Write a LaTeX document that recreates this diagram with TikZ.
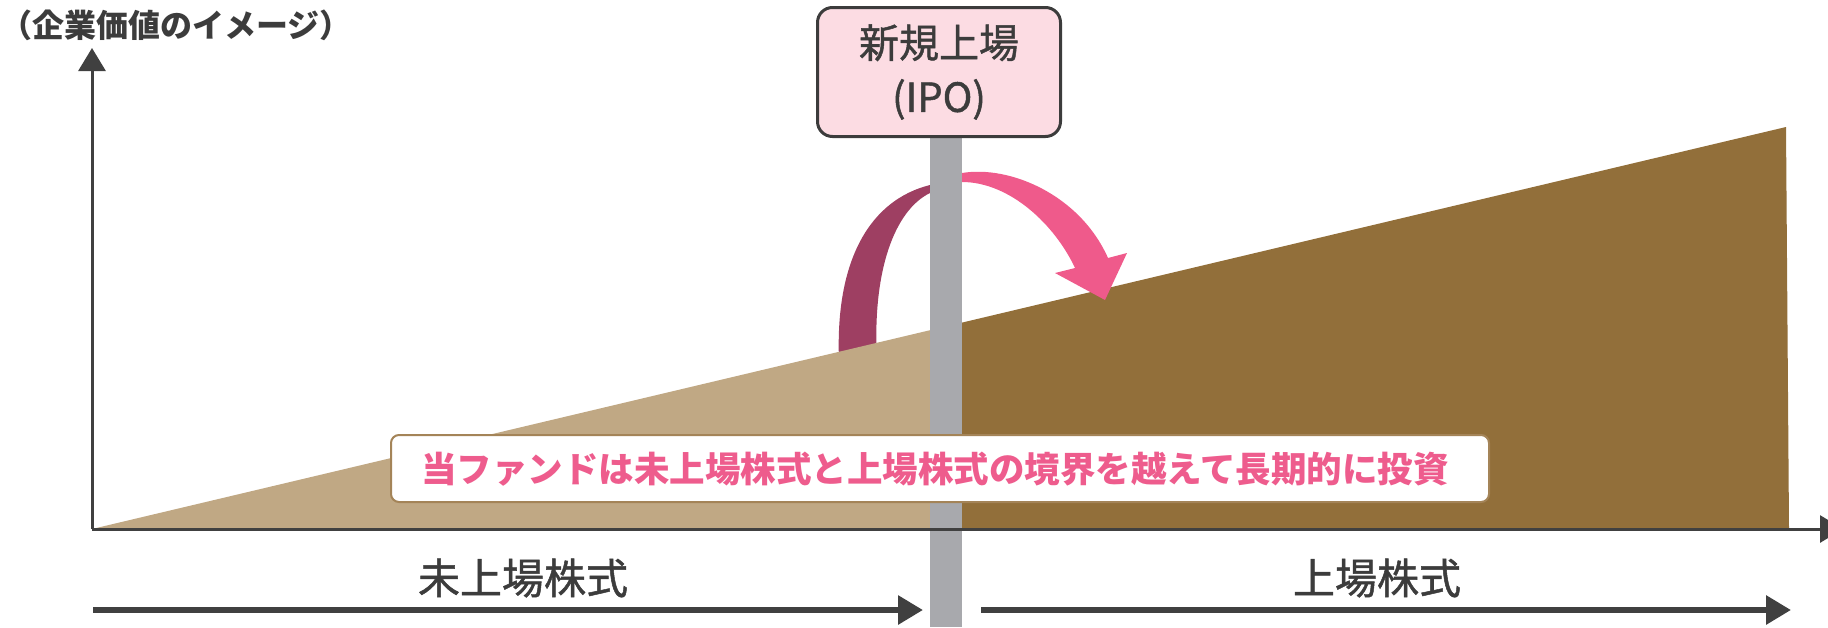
\documentclass[tikz,border=0pt]{standalone}
\usepackage{fontspec}
\setmainfont{Noto Sans CJK JP}
\newfontfamily\jpmedium{Noto Sans CJK JP}[FakeBold=1.2]
\usetikzlibrary{arrows.meta}
\definecolor{tanfill}{RGB}{192,168,132}
\definecolor{brownfill}{RGB}{146,111,58}
\definecolor{polegray}{RGB}{168,169,173}
\definecolor{darkarc}{RGB}{158,63,98}
\definecolor{pinkarrow}{RGB}{239,90,139}
\definecolor{pinktext}{RGB}{238,92,141}
\definecolor{boxpink}{RGB}{252,220,227}
\definecolor{axisgray}{RGB}{64,64,64}
\definecolor{textgray}{RGB}{60,60,60}
\definecolor{boxborder}{RGB}{164,132,88}
\tikzset{
  axisline/.style={draw=axisgray, line width=3pt, -{Triangle[width=27pt,length=23pt]}},
  bigarrow/.style={draw=axisgray, line width=6pt, -{Triangle[width=28pt,length=25pt]}},
  ipobox/.style={draw=textgray, line width=3pt, fill=boxpink, rounded corners=15pt,
     minimum width=243pt, minimum height=129pt, align=center, inner sep=0pt,
     text=textgray, font=\jpmedium\fontsize{40}{54}\selectfont},
  notebox/.style={draw=boxborder, line width=2pt, fill=white, rounded corners=8pt,
     minimum width=1098pt, minimum height=67pt, inner sep=0pt},
  notetext/.style={text=pinktext, font=\fontsize{35.5}{40}\selectfont\bfseries, inner sep=0pt},
  label/.style={text=textgray, font=\jpmedium\fontsize{42}{46}\selectfont, inner sep=0pt},
  titletext/.style={text=textgray, font=\fontsize{32}{34}\selectfont\bfseries, inner sep=0pt}
}
\begin{document}
\begin{tikzpicture}[x=1pt, y=-1pt]
\useasboundingbox (0,0) rectangle (1828,627);
\clip (0,0) rectangle (1828,627);
% dark rising arc (left of pole)
\fill[darkarc] (839,360) .. controls (835,260) and (870,200) .. (930,185)
  -- (946,183) -- (946,192) -- (930,193)
  .. controls (895,210) and (872,270) .. (877,360) -- cycle;
% value areas
\fill[tanfill] (92,529) -- (946,326.4) -- (946,529) -- cycle;
\fill[brownfill] (946,326.4) -- (1786,127) -- (1789,529) -- (946,529) -- cycle;
% pink falling arrow (right of pole)
\fill[pinkarrow] (946,173) -- (962,173) .. controls (1010,165) and (1080,195) .. (1108,258)
  -- (1127,253) -- (1105,300) -- (1055,273) -- (1075,268)
  .. controls (1055,225) and (1010,182) .. (962,182) -- (946,183) -- cycle;
% pole
\fill[polegray] (930,120) rectangle (962,627);
% axes
\coordinate (origin) at (92,529);
\coordinate (ytip) at (92,48);
\coordinate (xtip) at (1843,529);
\draw[axisline] (origin) -- (ytip);
\draw[axisline] (origin) -- (xtip);
% IPO box
\node[ipobox] (ipo) at (939,72) {新規上場\\(IPO)};
% note box
\node[notebox] (note) at (940,468.5) {};
\node[notetext] (notet) at (935,469) {当ファンドは未上場株式と上場株式の境界を越えて長期的に投資};
% bottom arrows
\coordinate (la) at (93,610);
\coordinate (lb) at (923,610);
\coordinate (ra) at (981,610);
\coordinate (rb) at (1791,610);
\draw[bigarrow] (la) -- (lb);
\draw[bigarrow] (ra) -- (rb);
\node[label] (unlisted) at (523,578) {未上場株式};
\node[label] (listed) at (1377,578) {上場株式};
% title
\node[titletext] (title) at (176,25) {（企業価値のイメージ）};
\end{tikzpicture}
\end{document}
